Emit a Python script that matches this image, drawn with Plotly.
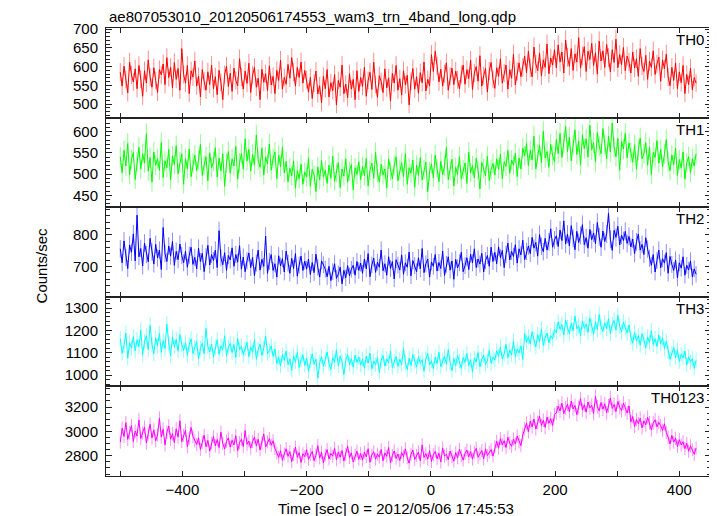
import numpy as np
import plotly.graph_objects as go
from plotly.subplots import make_subplots

title_text = "ae807053010_20120506174553_wam3_trn_4band_long.qdp"
band_names = ["TH0", "TH1", "TH2", "TH3", "TH0123"]
t_start = -500
t_step = 3
bin_sec = 1.0

th0 = [585, 548, 601, 566, 530, 612, 578, 559, 594, 541,
       603, 567, 521, 589, 556, 618, 572, 545, 597, 563,
       531, 592, 578, 607, 552, 624, 571, 598, 543, 611,
       566, 595, 537, 648, 579, 556, 603, 528, 589, 572,
       615, 548, 574, 519, 592, 561, 537, 586, 552, 604,
       541, 573, 525, 590, 558, 512, 579, 601, 547, 582,
       534, 596, 563, 549, 621, 572, 540, 588, 555, 609,
       531, 577, 598, 545, 569, 512, 593, 558, 581, 536,
       602, 551, 574, 528, 590, 563, 617, 540, 571, 553,
       606, 569, 624, 585, 548, 598, 571, 612, 556, 590,
       565, 532, 571, 515, 556, 588, 527, 549, 503, 574,
       541, 592, 519, 557, 536, 579, 498, 563, 545, 604,
       528, 553, 517, 581, 540, 566, 512, 589, 534, 571,
       547, 598, 521, 563, 585, 539, 612, 552, 518, 576,
       560, 531, 594, 543, 570, 508, 582, 556, 603, 537,
       568, 524, 589, 551, 577, 498, 561, 595, 540, 573,
       529, 584, 557, 612, 535, 566, 549,
       632, 587, 641, 602,
       559, 593, 548, 581, 610, 537, 574, 596, 552, 588,
       565, 541, 579,
       604, 553, 592, 568, 617, 539, 583, 600, 561, 629,
       548, 576, 595, 532, 588, 611, 566, 542, 597, 574,
       621, 556, 583, 604, 540, 592, 569, 633, 551, 587,
       610, 573, 598,
       628, 584, 641, 596, 573, 652, 607, 589, 636, 575,
       618, 598, 660, 581, 623, 604, 645,
       597, 658, 612, 639, 583, 671, 625, 601, 648, 590,
       634, 612, 677, 596, 628, 653, 587, 641, 619, 662,
       603, 637, 580, 668, 615, 642, 598, 659, 624, 586,
       645, 611, 673, 597, 632, 605, 651, 589, 628, 612,
       583, 639, 596, 621, 574, 648, 602, 587, 630, 566,
       614, 598, 642, 579, 607, 625, 561, 618, 594, 633,
       572, 549, 598, 563, 610, 541, 586, 557, 603, 528,
       579, 552, 596, 538, 571, 556]

th1 = [541, 503, 556, 519, 572, 498, 534, 551, 487, 529,
       563, 512, 548, 526, 595, 507, 539, 481, 552, 521,
       536, 509, 574, 492, 531, 515, 558, 486, 543, 522,
       567, 501, 529, 548, 476, 537, 512, 559, 494, 526,
       545, 508, 533, 570, 497, 521, 541, 484, 550, 515,
       529, 562, 493, 538, 507, 548, 471, 526, 553, 502,
       536, 519, 565, 488, 527, 549, 512, 583, 531, 558,
       507, 546, 521, 592, 533, 516, 561, 498, 540, 524,
       571, 509, 537, 552, 489, 545, 518, 563, 503, 530,
       482, 514, 496, 531, 467, 508, 489, 523, 476, 505,
       493, 538, 471, 511, 498, 459, 517, 486, 532, 494,
       509, 478, 521, 490, 542, 483, 503, 527, 468, 512,
       495, 536, 481, 507, 522, 463, 515, 499, 529, 487,
       518, 496, 537, 472, 509, 526, 490, 551, 503, 481,
       523, 498, 512, 467, 535, 507, 489, 519, 541, 484,
       510, 527, 493, 548, 476, 515, 502, 533, 469, 521,
       497, 539, 486, 511, 528, 459, 506, 524, 491, 545,
       513, 482, 530, 498, 519, 563, 487, 508, 535, 472,
       516, 499, 541, 488, 510, 526, 478, 552, 503, 520,
       491, 537, 509, 465, 528, 514, 496, 542, 485, 511,
       525, 498, 536, 511, 547, 489, 529, 518, 556, 502,
       533, 521, 549, 494, 538, 512, 561, 543, 572, 520,
       556, 533, 589, 512, 547, 568, 527, 601, 538, 553,
       516, 570, 544, 529, 581, 548, 596, 539, 574, 612,
       553, 587, 531, 569, 604, 546, 578, 521, 592, 560,
       583, 540, 615, 557, 574, 529, 598, 566, 548, 607,
       571, 536, 589, 552, 620, 563, 541, 584, 509, 577,
       559, 596, 538, 573, 551, 528, 569, 512, 557, 585,
       536, 548, 574, 521, 563, 499, 551, 539, 579, 526,
       558, 517, 547, 581, 529, 508, 545, 522, 561, 497,
       534, 514, 552, 488, 527, 541, 503, 536, 519, 548]

th2 = [756, 712, 781, 729, 694, 768, 745, 803, 718, 862,
       731, 757, 702, 774, 738, 715, 789, 746, 708, 770,
       727, 752, 691, 823, 741, 716, 765, 733, 779, 704,
       748, 722, 771, 735, 712, 749, 698, 736, 761, 707,
       729, 693, 758, 716, 742, 684, 731, 767, 705, 738,
       719, 752, 697, 813, 728, 706, 744, 688, 735, 721,
       759, 701, 738, 714, 766, 692, 730, 684, 718, 743,
       697, 729, 672, 711, 752, 689, 723, 701, 796, 679,
       716, 738, 688, 709, 667, 734, 702, 725, 683, 749,
       711, 679, 726, 694, 741, 670, 705, 733, 688, 717,
       692, 724, 675, 713, 681, 739, 698, 667, 718, 706,
       692, 668, 701, 656, 684, 709, 663, 677, 698, 646,
       688, 665, 703, 671, 692, 704, 673, 716, 688, 711,
       679, 724, 693, 741, 668, 705, 727, 682, 714, 698,
       752, 687, 709, 673, 731, 694, 716, 661, 722, 705,
       689, 737, 676, 712, 698, 746, 671, 719, 703, 684,
       728, 693, 757, 681, 709, 724, 667, 715, 701, 738,
       686, 713, 694, 749, 672, 707, 731, 689, 718, 660,
       723, 696, 712, 745, 684, 703, 728, 691, 739, 712,
       756, 697, 724, 708, 742, 683, 719, 735, 701, 761,
       716, 745, 709, 762, 728, 751, 697, 739, 774, 721,
       748, 732, 769, 711, 756, 737, 783, 722, 748, 765,
       741, 792, 758, 776, 733, 801, 764, 747, 789, 752,
       778, 819, 761, 784, 797, 763, 815, 782, 844, 771,
       802, 765, 829, 789, 753, 811, 776, 798, 832, 769,
       791, 758, 817, 785, 806, 772, 839, 794, 761, 812,
       779, 803, 868, 786, 751, 814, 792, 827, 768, 799,
       782, 811, 773, 795, 762, 787, 741, 778, 803, 752,
       770, 738, 791, 755, 726, 704, 738, 683, 719, 752,
       696, 725, 711, 744, 679, 732, 707, 688, 721, 664,
       712, 695, 731, 673, 704, 689, 718, 667, 693, 676]

th3 = [1163, 1098, 1132, 1187, 1076, 1145, 1121, 1172, 1109, 1158,
       1127, 1201, 1093, 1149, 1176, 1114, 1223, 1138, 1095, 1167,
       1131, 1186, 1102, 1154, 1119, 1228, 1143, 1088, 1171, 1125,
       1159, 1107, 1182, 1136, 1111, 1146, 1089, 1137, 1162, 1097,
       1124, 1151, 1072, 1119, 1143, 1096, 1209, 1128, 1104, 1139,
       1081, 1122, 1158, 1094, 1131, 1115, 1176, 1087, 1126, 1142,
       1101, 1137, 1079, 1164, 1113, 1129, 1092, 1118, 1147, 1083,
       1126, 1102, 1158, 1071, 1114, 1139, 1088, 1121, 1175, 1097,
       1109, 1131, 1084, 1117, 1052, 1079, 1041, 1092, 1066, 1108,
       1047, 1073, 1021, 1086, 1059, 1102, 1035, 1068, 1091, 1044,
       1077, 1018, 1063, 1095, 1049, 1071, 987, 1056, 1083, 1039,
       1069, 1104, 1051, 1026, 1078, 1058, 1113, 1042, 1085, 1061,
       1003, 1067, 1092, 1048, 1074, 1036, 1089, 1057, 1081, 1046,
       1072, 1031, 1085, 1054, 1099, 1028, 1063, 1047, 1079, 1012,
       1066, 1088, 1041, 1073, 1055, 1107, 1034, 1062, 1084, 1039,
       1071, 1048, 1119, 1057, 1025, 1076, 1043, 1092, 1061, 1036,
       1082, 1054, 1069, 1018, 1073, 1097, 1046, 1064, 1029, 1081,
       1052, 1103, 1038, 1067, 1085, 1049, 1114, 1057, 1021, 1074,
       1043, 1088, 1062, 1031, 1079, 1056, 1097, 1044, 1068, 1015,
       1076, 1059, 1101, 1037, 1072, 1089, 1048, 1065, 1112, 1053,
       1081, 1067, 1109, 1084, 1126, 1072, 1095, 1138, 1078, 1113,
       1091, 1152, 1083, 1117, 1099, 1131, 1071, 1186, 1147, 1172,
       1139, 1194, 1158, 1126, 1181, 1149, 1207, 1133, 1169, 1188,
       1145, 1176, 1162, 1203, 1191, 1238, 1205, 1226, 1179, 1247,
       1213, 1186, 1232, 1198, 1264, 1207, 1221, 1175, 1243, 1209,
       1228, 1191, 1256, 1217, 1183, 1239, 1204, 1271, 1215, 1196,
       1234, 1208, 1252, 1185, 1226, 1245, 1201, 1267, 1219, 1193,
       1237, 1212, 1189, 1224, 1168, 1143, 1191, 1152, 1176, 1134,
       1185, 1159, 1122, 1171, 1146, 1198, 1137, 1163, 1128, 1179,
       1141, 1167, 1119, 1152, 1106, 1071, 1098, 1124, 1079, 1112,
       1061, 1093, 1077, 1108, 1046, 1082, 1059, 1074, 1031, 1066]

th0123 = [2912, 3026, 2958, 3071, 2934, 2989, 3048, 2917, 3003, 2962,
          3094, 2941, 2987, 3035, 2905, 2978, 3059, 2946, 3012, 2923,
          2971, 3108, 2954, 3017, 2889, 2992, 3044, 2936, 2981, 2908,
          3021, 2953, 3087, 2917, 2968, 3009, 2874, 2945, 3032, 2958,
          2921, 2893, 2947, 2852, 2911, 2968, 2874, 2926, 2839, 2903,
          2958, 2881, 2933, 2867, 2994, 2902, 2855, 2919, 2946, 2871,
          2927, 2889, 2964, 2842, 2908, 2935, 2876, 3007, 2894, 2921,
          2863, 2917, 2952, 2881, 2936, 2848, 2905, 2979, 2872, 2914,
          2941, 2886, 2923, 2859, 2822, 2787, 2841, 2763, 2815, 2858,
          2796, 2834, 2752, 2809, 2871, 2788, 2826, 2745, 2817, 2793,
          2849, 2771, 2812, 2836, 2759, 2804, 2883, 2781, 2828, 2742,
          2806, 2851, 2774, 2819, 2797, 2862, 2768, 2831, 2788, 2843,
          2756, 2812, 2879, 2785, 2824, 2749, 2803, 2837, 2771, 2818,
          2764, 2829, 2791, 2858, 2747, 2806, 2833, 2772, 2815, 2788,
          2851, 2759, 2823, 2796, 2868, 2741, 2802, 2839, 2778, 2814,
          2761, 2826, 2794, 2857, 2783, 2739, 2812, 2847, 2769, 2803,
          2831, 2758, 2889, 2786, 2817, 2772, 2842, 2753, 2809, 2835,
          2776, 2821, 2749, 2864, 2797, 2813, 2768, 2838, 2791, 2756,
          2826, 2782, 2853, 2799, 2764, 2818, 2847, 2791, 2836, 2772,
          2829, 2861, 2788, 2815, 2843, 2774, 2857, 2802, 2829, 2851,
          2797, 2873, 2918, 2862, 2941, 2889, 2924, 2867, 2952, 2903,
          2878, 2937, 2896, 2961, 2914, 2883, 2972, 3021, 3068, 2996,
          3084, 3037, 3102, 3019, 3073, 3125, 3048, 3091, 3032, 3117,
          3066, 3104, 3049, 3138, 3152, 3207, 3168, 3231, 3146, 3192,
          3223, 3161, 3249, 3184, 3212, 3137, 3196, 3268, 3175, 3219,
          3158, 3241, 3193, 3214, 3147, 3286, 3201, 3169, 3237, 3182,
          3226, 3153, 3209, 3274, 3188, 3221, 3162, 3246, 3197, 3171,
          3232, 3184, 3151, 3209, 3078, 3122, 3041, 3097, 3063, 3108,
          3029, 3086, 3054, 3117, 3071, 3012, 3069, 3095, 3038, 3074,
          3047, 3008, 3062, 2991, 2951, 2898, 2967, 2912, 2943, 2876,
          2932, 2889, 2915, 2858, 2903, 2837, 2881, 2849, 2812, 2864]

series = [th0, th1, th2, th3, th0123]
colors = ["#ff0000", "#00ff00", "#0000ff", "#00ffff", "#ff00ff"]
err_colors = ["rgba(255,0,0,0.45)", "rgba(0,255,0,0.45)", "rgba(0,0,255,0.45)",
              "rgba(0,255,255,0.45)", "rgba(255,0,255,0.45)"]
y_ranges = [[464, 703], [422, 633], [605, 887], [950, 1350], [2634, 3369]]
y_dticks = [50, 50, 100, 100, 200]
y_minor = [10, 10, 20, 20, 50]
x_range = [-523, 451]

FONT = "Liberation Sans, Arial, Helvetica, sans-serif"
AXIS_COLOR = "#222222"

fig = make_subplots(rows=5, cols=1, shared_xaxes=True, vertical_spacing=0)

for k, vals in enumerate(series):
    v = np.array(vals, dtype=float)
    t = t_start + t_step * np.arange(len(v))
    err = np.sqrt(v / bin_sec)
    fig.add_trace(go.Scatter(
        x=t, y=v, mode="lines",
        line=dict(color=colors[k], width=1),
        error_y=dict(type="data", array=err, visible=True,
                     color=err_colors[k], thickness=1, width=0),
        showlegend=False, hoverinfo="skip"), row=k + 1, col=1)

for k in range(5):
    fig.update_yaxes(
        range=y_ranges[k], dtick=y_dticks[k], tick0=0,
        ticks="inside", ticklen=6, tickwidth=1, tickcolor=AXIS_COLOR,
        minor=dict(ticks="inside", ticklen=4, dtick=y_minor[k], tick0=0,
                   tickcolor=AXIS_COLOR, showgrid=False),
        showline=True, linecolor=AXIS_COLOR, linewidth=1, mirror="ticks",
        showgrid=False, zeroline=False, automargin=False,
        tickfont=dict(family=FONT, size=15, color="black"),
        ticklabelstandoff=4,
        row=k + 1, col=1)
    fig.update_xaxes(
        range=x_range,
        ticks="inside", ticklen=5, tickwidth=1, tickcolor=AXIS_COLOR,
        showline=True, linecolor=AXIS_COLOR, linewidth=1, mirror="ticks",
        showgrid=False, zeroline=False, automargin=False,
        showticklabels=(k == 4),
        tickvals=[-500, -400, -300, -200, -100, 0, 100, 200, 300, 400],
        ticktext=["", "\u2212400", "", "\u2212200", "", "0", "", "200", "", "400"],
        tickfont=dict(family=FONT, size=15, color="black"),
        row=k + 1, col=1)

annotations = [
    dict(text=title_text, x=0, xref="paper", xanchor="left", xshift=1,
         y=1, yref="paper", yanchor="bottom", yshift=1, showarrow=False,
         font=dict(family=FONT, size=15, color="black")),
    dict(text="Time [sec] 0 = 2012/05/06 17:45:53", x=0.48, xref="paper",
         xanchor="center", y=0, yref="paper", yanchor="top", yshift=-22,
         showarrow=False, font=dict(family=FONT, size=15, color="black")),
    dict(text="Counts/sec", x=0, xref="paper", xanchor="center", xshift=-65,
         y=0.47, yref="paper", yanchor="middle", textangle=-90,
         showarrow=False, font=dict(family=FONT, size=15, color="black")),
]
for k, name in enumerate(band_names):
    top = 1 - 0.2 * k
    annotations.append(dict(text=name, x=1, xref="paper", xanchor="right",
                            xshift=-5, y=top, yref="paper", yanchor="top",
                            yshift=-1, showarrow=False,
                            font=dict(family=FONT, size=15, color="black")))

# page body has an 8px margin, so the figure is sized/offset to compensate
fig.update_layout(
    width=709, height=508,
    margin=dict(l=98, r=6, t=20, b=40, autoexpand=False),
    paper_bgcolor="white", plot_bgcolor="white",
    annotations=annotations,
)

fig.write_html("out.html")
